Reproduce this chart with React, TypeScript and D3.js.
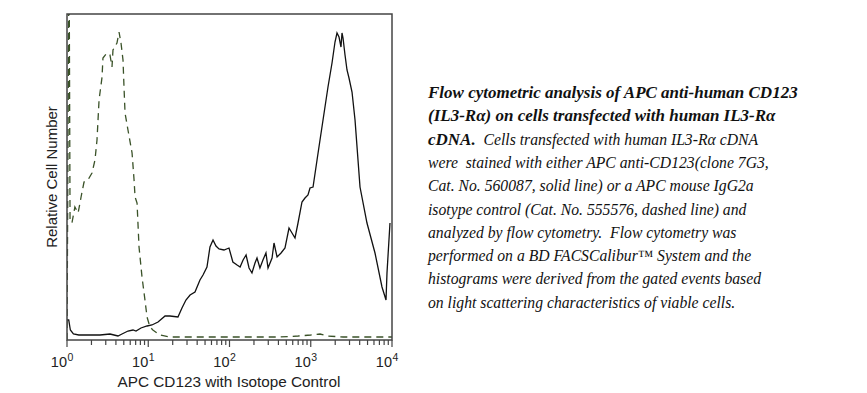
import React from "react";
import * as d3 from "d3";

// APC CD123 stained cells (solid line): fluorescence, relative count
const solidX = [1.0, 1.05, 1.1, 1.2, 1.4, 1.92, 2.55, 3.38, 4.24, 4.75, 5.63, 6.49, 7.07, 8.14, 9.66, 11.1, 13.2, 16.1, 18.5, 23.2, 26.0, 29.1, 32.7, 37.6, 43.3, 47.2, 52.8, 57.5, 62.7, 68.2, 74.3, 85.5, 98.6, 110, 124, 135, 147, 160, 174, 189, 206, 218, 237, 258, 281, 298, 334, 353, 385, 431, 482, 540, 588, 640, 697, 780, 849, 925, 979, 1067, 1195, 1300, 1416, 1630, 1827, 1988, 2104, 2228, 2356, 2425, 2496, 2641, 2794, 2956, 3221, 3507, 4039, 4921, 6177, 7531, 8440, 8676, 9445];
const solidY = [20, 20, 10, 6, 5, 5, 5, 6, 4, 6, 9, 10, 9, 12, 14, 15, 18, 24, 24, 23, 32, 40, 45, 48, 60, 65, 73, 93, 100, 94, 91, 90, 92, 78, 75, 73, 80, 85, 72, 67, 77, 82, 72, 80, 87, 72, 82, 97, 83, 87, 92, 112, 107, 102, 117, 138, 142, 145, 152, 153, 180, 200, 220, 253, 277, 298, 307, 303, 293, 307, 302, 285, 270, 262, 248, 220, 153, 117, 87, 53, 40, 67, 117];

// Isotype control (dashed line)
const isoX = [1.0, 1.06, 1.09, 1.15, 1.25, 1.37, 1.49, 1.62, 1.81, 2.03, 2.21, 2.34, 2.48, 2.7, 2.77, 3.1, 3.38, 3.58, 3.68, 4.12, 4.37, 4.62, 4.89, 5.03, 5.18, 5.63, 6.32, 6.69, 6.88, 7.28, 7.7, 8.38, 9.11, 9.66, 10.5, 11.4, 13.9, 18.5, 30, 50, 100, 200, 400, 700, 1000, 1300, 1600, 2500, 5000, 10000];
const isoY = [0, 400, 120, 117, 133, 127, 143, 158, 160, 167, 180, 200, 240, 263, 282, 287, 285, 273, 290, 297, 308, 297, 280, 253, 227, 210, 187, 160, 143, 137, 93, 63, 40, 23, 13, 10, 5, 3, 3, 3, 3, 3, 3, 4, 5, 6, 4, 3, 3, 3];

const decades = [0, 1, 2, 3, 4];

const caption: { text: string; bold: boolean }[][] = [
  [{ text: "Flow cytometric analysis of APC anti-human CD123", bold: true }],
  [{ text: "(IL3-R\u03b1) on cells transfected with human IL3-R\u03b1", bold: true }],
  [
    { text: "cDNA.", bold: true },
    { text: "\u00a0 Cells transfected with human IL3-R\u03b1 cDNA", bold: false },
  ],
  [{ text: "were \u00a0stained with either APC anti-CD123(clone 7G3,", bold: false }],
  [{ text: "Cat. No. 560087, solid line) or a APC mouse IgG2a", bold: false }],
  [{ text: "isotype control (Cat. No. 555576, dashed line) and", bold: false }],
  [{ text: "analyzed by flow cytometry. \u00a0Flow cytometry was", bold: false }],
  [{ text: "performed on a BD FACSCalibur\u2122 System and the", bold: false }],
  [{ text: "histograms were derived from the gated events based", bold: false }],
  [{ text: "on light scattering characteristics of viable cells.", bold: false }],
];

const W = 867;
const H = 393;
const left = 67;
const right = 392;
const top = 14;
const bottom = 340;

export default function App() {
  const x = d3.scaleLog().domain([1, 10000]).range([left, right]);
  const y = d3.scaleLinear().domain([0, 326]).range([bottom, top]);

  const line = d3
    .line<[number, number]>()
    .x((d) => x(d[0]))
    .y((d) => y(d[1]));

  const solid = solidX.map((v, i) => [v, solidY[i]] as [number, number]);
  const iso = isoX.map((v, i) => [v, isoY[i]] as [number, number]);

  const ticks = x.ticks();
  const sans = "Liberation Sans, Arial, sans-serif";
  const serif = "Liberation Serif";

  return (
    <svg width={W} height={H} style={{ position: "absolute", left: 0, top: 0, background: "#fff" }}>
      <defs>
        <clipPath id="plot">
          <rect x={left} y={top} width={right - left} height={bottom - top} />
        </clipPath>
      </defs>

      <g clipPath="url(#plot)" fill="none">
        <path d={line(iso) || ""} stroke="#3a5228" strokeWidth={1.3} strokeDasharray="7,5" />
        <path d={line(solid) || ""} stroke="#111" strokeWidth={1.3} />
      </g>

      {/* frame */}
      <rect x={left} y={top} width={right - left} height={bottom - top} fill="none" stroke="#444" strokeWidth={1.5} />

      {/* ticks */}
      {ticks.map((t, i) => {
        const major = Math.abs(Math.log10(t) - Math.round(Math.log10(t))) < 1e-9;
        return (
          <line key={i} x1={x(t)} x2={x(t)} y1={bottom} y2={bottom + (major ? 7 : 5)} stroke="#444" strokeWidth={1.2} />
        );
      })}

      {decades.map((d) => (
        <text key={d} x={x(Math.pow(10, d))} y={367} textAnchor="end" fontFamily={sans} fontSize={14.5} fill="#222">
          10
        </text>
      ))}
      {decades.map((d) => (
        <text key={"s" + d} x={x(Math.pow(10, d)) + 0.5} y={361} fontFamily={sans} fontSize={10.5} fill="#222">
          {d}
        </text>
      ))}

      <text x={229} y={387} textAnchor="middle" fontFamily={sans} fontSize={15.3} fill="#222">
        APC CD123 with Isotope Control
      </text>
      <text
        transform={`translate(57,${(top + bottom) / 2}) rotate(-90)`}
        textAnchor="middle"
        fontFamily={sans}
        fontSize={15}
        fill="#222"
      >
        Relative Cell Number
      </text>

      {caption.map((parts, i) => (
        <text key={i} x={428} y={98 + i * 23.3} fontFamily={serif} fontStyle="italic" fill="#111">
          {parts.map((p, j) => (
            <tspan key={j} fontWeight={p.bold ? "bold" : "normal"} fontSize={p.bold ? 17 : 15.7}>
              {p.text}
            </tspan>
          ))}
        </text>
      ))}
    </svg>
  );
}
